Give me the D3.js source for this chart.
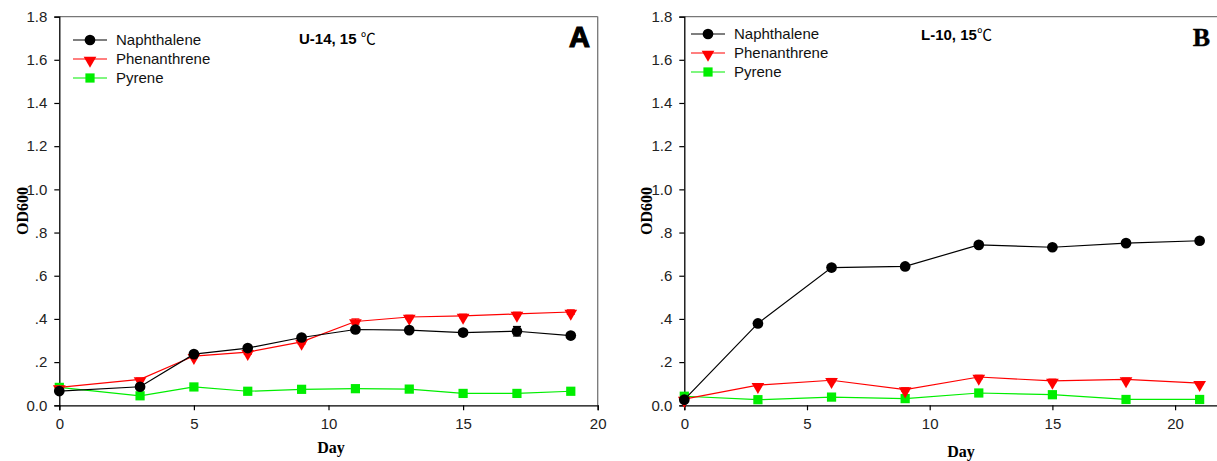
<!DOCTYPE html>
<html>
<head>
<meta charset="utf-8">
<script src="https://cdn.jsdelivr.net/npm/d3@7"></script>
<style>
	body { margin: 0; background: #fff; }
	text { font-family: "Liberation Sans", Arial, sans-serif; }
	.tick text { font-size: 15px; fill: #222; }
	.axlabel { font-family: "Liberation Serif", "Times New Roman", serif; font-weight: bold; font-size: 16px; }
	.legend text { font-size: 15px; fill: #111; }
</style>
</head>
<body>
<svg id="chart" width="1217" height="461"></svg>
<script>
// series names and colours
var seriesNames = ["Naphthalene", "Phenanthrene", "Pyrene"];
var seriesColors = ["#000000", "#ff0000", "#00ee00"];
var seriesShapes = ["circle", "triangle", "square"];

// panel A: U-14, 15 C
var daysA = [0, 3, 5, 7, 9, 11, 13, 15, 17, 19];
var naphA = [0.066, 0.086, 0.237, 0.265, 0.314, 0.351, 0.348, 0.337, 0.343, 0.323];
var phenA = [0.083, 0.120, 0.228, 0.246, 0.294, 0.388, 0.409, 0.414, 0.423, 0.432];
var pyrA = [0.083, 0.044, 0.085, 0.065, 0.074, 0.077, 0.075, 0.055, 0.055, 0.065];
var naphErrA = [0.006, 0.008, 0.008, 0.006, 0.006, 0.008, 0.006, 0.006, 0.022, 0.012];
var phenErrA = [0.004, 0.006, 0.008, 0.010, 0.010, 0.012, 0.008, 0.008, 0.008, 0.010];
var pyrErrA = [0.006, 0.006, 0.006, 0.006, 0.004, 0.004, 0.004, 0.006, 0.004, 0.004];

// panel B: L-10, 15 C
var daysB = [0, 3, 6, 9, 12, 15, 18, 21];
var naphB = [0.026, 0.379, 0.638, 0.643, 0.743, 0.732, 0.751, 0.762];
var phenB = [0.029, 0.093, 0.116, 0.073, 0.131, 0.113, 0.120, 0.103];
var pyrB = [0.042, 0.026, 0.038, 0.031, 0.057, 0.049, 0.027, 0.027];
var naphErrB = [0.008, 0.010, 0.006, 0.006, 0.012, 0.006, 0.006, 0.004];
var phenErrB = [0.006, 0.006, 0.008, 0.008, 0.008, 0.008, 0.006, 0.006];
var pyrErrB = [0.004, 0.004, 0.004, 0.004, 0.006, 0.004, 0.004, 0.004];

var yTicks = [0, 0.2, 0.4, 0.6, 0.8, 1.0, 1.2, 1.4, 1.6, 1.8];
var yTickLabels = ["0.0", ".2", ".4", ".6", ".8", "1.0", "1.2", "1.4", "1.6", "1.8"];
var xTicks = [0, 5, 10, 15, 20];

var svg = d3.select("#chart");

var drawPanel = function(opt) {
	var x = d3.scaleLinear().domain(opt.xDomain).range([opt.left, opt.right]);
	var y = d3.scaleLinear().domain([0, 1.8]).range([405.3, 16.6]);
	var g = svg.append("g").attr("class", "panel");

	// top and right frame (grey)
	g.append("line").attr("x1", x(opt.xDomain[0])).attr("x2", x(opt.xDomain[1]))
		.attr("y1", y(1.8)).attr("y2", y(1.8)).attr("stroke", "#777").attr("stroke-width", 1.3);
	g.append("line").attr("x1", x(opt.xDomain[1])).attr("x2", x(opt.xDomain[1]))
		.attr("y1", y(1.8)).attr("y2", y(0)).attr("stroke", "#777").attr("stroke-width", 1.3);

	var yAxis = d3.axisLeft(y).tickValues(yTicks).tickSize(5).tickPadding(7)
		.tickFormat(function(d, i) { return yTickLabels[i]; });
	var gy = g.append("g").attr("transform", "translate(" + opt.left + ",0)").call(yAxis);
	var xAxis = d3.axisBottom(x).tickValues(xTicks).tickSize(5).tickPadding(8).tickFormat(d3.format("d"));
	var gx = g.append("g").attr("transform", "translate(0," + y(0) + ")").call(xAxis);
	[gy, gx].forEach(function(a) {
		a.select(".domain").attr("stroke", "#000").attr("stroke-width", 1.3);
		a.selectAll(".tick line").attr("stroke", "#000").attr("stroke-width", 1.2);
		a.selectAll(".tick text").style("font-family", "'Liberation Sans', Arial, sans-serif");
	});

	// axis titles
	g.append("text").attr("class", "axlabel").attr("text-anchor", "middle")
		.attr("transform", "translate(" + opt.yLabelX + "," + y(0.9) + ") rotate(-90)")
		.attr("dy", "0.35em").text("OD600");
	g.append("text").attr("class", "axlabel").attr("text-anchor", "middle")
		.attr("x", opt.xLabelX).attr("y", opt.xLabelY).text("Day");

	// series
	var line = d3.line().x(function(d) { return x(d.day); }).y(function(d) { return y(d.v); });
	var sym = {
		circle: d3.symbol().type(d3.symbolCircle).size(90),
		triangle: d3.symbol().type(d3.symbolTriangle).size(70),
		square: d3.symbol().type(d3.symbolSquare).size(85)
	};
	// draw pyrene first so black ends on top
	[2, 1, 0].forEach(function(s) {
		var pts = opt.days.map(function(day, i) {
			return { day: day, v: opt.values[s][i], e: opt.errors[s][i] };
		});
		g.append("path").datum(pts).attr("d", line).attr("fill", "none")
			.attr("stroke", seriesColors[s]).attr("stroke-width", 1.2);
		var eb = g.append("g").selectAll("g").data(pts).enter().append("g");
		eb.append("line").attr("x1", function(d) { return x(d.day); }).attr("x2", function(d) { return x(d.day); })
			.attr("y1", function(d) { return y(d.v - d.e); }).attr("y2", function(d) { return y(d.v + d.e); })
			.attr("stroke", seriesColors[s]).attr("stroke-width", 1.2);
		[-1, 1].forEach(function(sg) {
			eb.append("line").attr("x1", function(d) { return x(d.day) - 4; }).attr("x2", function(d) { return x(d.day) + 4; })
				.attr("y1", function(d) { return y(d.v + sg * d.e); }).attr("y2", function(d) { return y(d.v + sg * d.e); })
				.attr("stroke", seriesColors[s]).attr("stroke-width", 1.2);
		});
		g.append("g").selectAll("path").data(pts).enter().append("path")
			.attr("d", sym[seriesShapes[s]])
			.attr("transform", function(d) {
				return "translate(" + x(d.day) + "," + y(d.v) + ")" + (s === 1 ? " rotate(180) translate(0,-1.5)" : "");
			})
			.attr("fill", seriesColors[s]);
	});

	// legend
	var lg = g.append("g").attr("class", "legend");
	seriesNames.forEach(function(name, s) {
		var ly = opt.legendY + s * 19;
		var row = lg.append("g").attr("transform", "translate(" + opt.legendX + "," + ly + ")");
		row.append("line").attr("x1", 0).attr("x2", 34).attr("y1", 0).attr("y2", 0)
			.attr("stroke", seriesColors[s]).attr("stroke-width", 1.2);
		row.append("path").attr("d", sym[seriesShapes[s]])
			.attr("transform", "translate(17,0)" + (s === 1 ? " rotate(180) translate(0,-1.5)" : ""))
			.attr("fill", seriesColors[s]);
		row.append("text").attr("x", 43).attr("dy", "0.36em").text(name);
	});

	// strain title
	var t = g.append("text").attr("x", opt.titleX).attr("y", opt.titleY).style("font-size", "15px");
	t.append("tspan").style("font-weight", "bold").text(opt.title);
	t.append("tspan").style("font-family", "'Noto Sans CJK SC', sans-serif").style("font-size", "15px").text(opt.unit);

	// panel letter
	g.append("text").attr("x", opt.letterX).attr("y", opt.letterY).attr("text-anchor", "end")
		.style("font-family", opt.letterFont).style("font-weight", "900")
		.style("font-size", opt.letterSize + "px").style("stroke", "#000").style("stroke-width", opt.letterStroke)
		.text(opt.letter);
};

drawPanel({
	left: 59.3, right: 597.7, xDomain: [0, 20],
	days: daysA, values: [naphA, phenA, pyrA], errors: [naphErrA, phenErrA, pyrErrA],
	yLabelX: 22, xLabelX: 331, xLabelY: 453,
	legendX: 73, legendY: 40,
	title: "U-14, 15 ", unit: "℃", titleX: 299, titleY: 44,
	letter: "A", letterX: 590, letterY: 47, letterFont: "'Liberation Sans', Arial, sans-serif", letterSize: 29, letterStroke: 1.2
});

drawPanel({
	left: 684.3, right: 684.3 + 24.54 * 22, xDomain: [0, 22],
	days: daysB, values: [naphB, phenB, pyrB], errors: [naphErrB, phenErrB, pyrErrB],
	yLabelX: 646, xLabelX: 961, xLabelY: 457,
	legendX: 691, legendY: 34,
	title: "L-10, 15", unit: "℃", titleX: 921, titleY: 40,
	letter: "B", letterX: 1210, letterY: 46, letterFont: "'Liberation Serif', 'Times New Roman', serif", letterSize: 26, letterStroke: 0.4
});
</script>
</body>
</html>
